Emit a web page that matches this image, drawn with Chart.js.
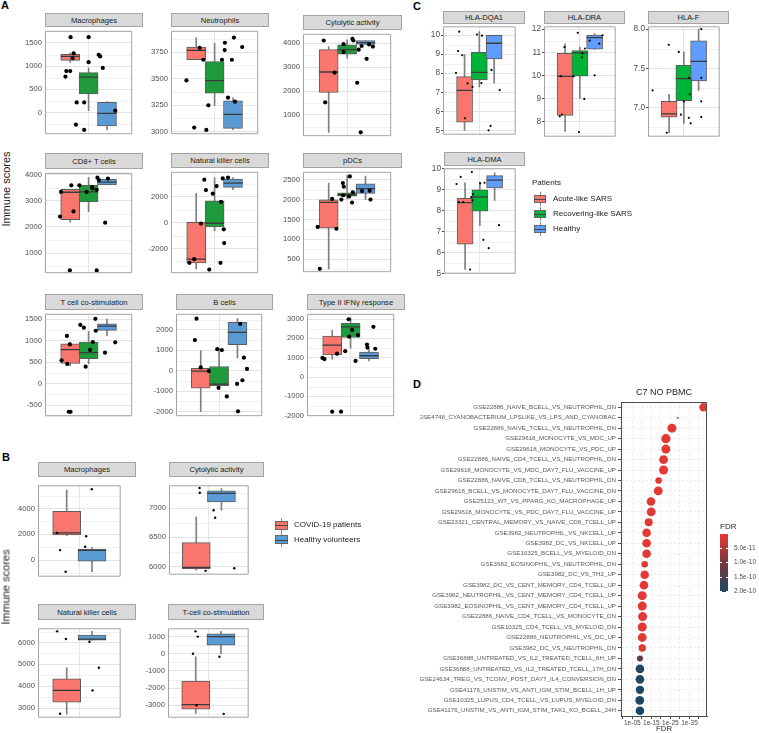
<!DOCTYPE html>
<html>
<head>
<meta charset="utf-8">
<script src="https://cdn.jsdelivr.net/npm/chart.js@4.4.1/dist/chart.umd.min.js"></script>
<style>
body { margin:0; background:#fff; width:759px; height:733px; position:relative; overflow:hidden; font-family:"Liberation Sans", Arial, sans-serif; }
canvas { position:absolute; }
.strip { position:absolute; box-sizing:border-box; background:#d9d9d9; border:1px solid #a3a3a3; color:#1a1a1a; font-size:7.6px; display:flex; align-items:center; justify-content:center; white-space:nowrap; }
.lbl { position:absolute; white-space:nowrap; color:#1a1a1a; }
.tag { position:absolute; font-weight:bold; font-size:11px; line-height:11px; color:#000; }
</style>
</head>
<body>
<div class="tag" style="left:1px;top:0px">A</div>
<div class="tag" style="left:2px;top:452px">B</div>
<div class="tag" style="left:413px;top:1px">C</div>
<div class="tag" style="left:413px;top:379px">D</div>
<canvas id="d" width="339" height="353" style="left:420px;top:380px"></canvas>

<script>
// groups
const groupsA = ['Acute-like SARS', 'Recovering-like SARS', 'Healthy'];
const groupsB = ['COVID-19 patients', 'Healthy volunteers'];

// box summaries: [lower whisker, Q1, median, Q3, upper whisker] per group
// points: [jittered group position, score]
const aMacroBox = [[1080,1125,1211,1257,1290],[40,401,763,862,960],[-375,-290,-20,217,230]];
const aMacroPts = [[1.02,1625],[1.19,1277],[1.13,1171],[0.79,895],[1.0,895],[0.74,776],[1.35,217],[1.31,-263],[1.76,-375],[2.0,1625],[2.0,1086],[1.76,217],[2.55,1244],[2.63,1211],[2.77,961],[3.45,39]];
const aNeutBox = [[3678,3678,3767,3799,3885],[3247,3362,3480,3661,3833],[3017,3029,3161,3290,3319]];
const aNeutPts = [[0.47,3483],[1.19,3790],[1.39,3678],[0.89,3037],[1.55,3014],[1.66,3247],[2.40,3678],[2.56,3839],[2.55,3770],[3.05,3888],[2.94,3678],[3.5,3799],[2.73,3319],[3.11,3282]];
const aCytoBox = [[269,1936,2795,3731,3860],[3372,3538,3731,3936,4141],[3949,3949,4026,4115,4115]];
const aCytoPts = [[0.73,4115],[1.32,2769],[0.81,1526],[1.81,3962],[1.81,3628],[2.29,4180],[2.34,4115],[2.63,3731],[2.79,3885],[3.19,3949],[3.40,3860],[3.06,3346],[2.55,2346],[2.74,269]];
const aCd8Box = [[2186,2279,3326,3442,3442],[2582,2954,3338,3605,3884],[3605,3605,3710,3826,3884]];
const aCd8Pts = [[0.5,3338],[0.45,2396],[1.06,3593],[1.18,2593],[0.98,337],[1.5,3593],[1.89,3338],[2.19,3524],[2.21,3477],[2.44,3419],[2.48,3884],[2.56,3791],[3.05,3849],[2.9,2163],[2.44,337]];
const aNkBox = [[-3577,-3106,-2824,24,2259],[-635,-329,-47,1694,3482],[2541,2729,3059,3365,3482]];
const aNkPts = [[0.63,-3106],[0.89,-2824],[1.26,-71],[1.44,3318],[1.53,2518],[1.71,-3624],[1.9,2235],[2.11,2824],[2.35,1600],[2.44,3412],[2.73,3482],[2.32,-3106],[2.5,-518],[2.52,-1577]];
const aPdcBox = [[255,1281,1932,1994,2415],[2017,2086,2124,2170,2607],[2001,2155,2277,2400,2591]];
const aPdcPts = [[0.4,1312],[1.42,1266],[0.52,255],[1.19,2017],[1.69,2001],[1.77,2415],[1.82,2323],[1.79,2109],[2.11,2078],[2.15,2584],[2.31,2185],[2.27,1925],[2.81,2216],[3.23,2224],[3.27,2001]];
const aTcsBox = [[418,475,794,929,964],[468,581,723,971,1220],[1113,1241,1340,1397,1503]];
const aTcsPts = [[0.53,546],[0.84,461],[0.82,1113],[0.98,915],[0.92,-652],[1.02,-652],[1.55,1368],[1.74,1305],[1.84,397],[2.08,787],[2.23,971],[2.37,1510],[2.39,1234],[2.89,723],[3.45,964]];
const aBcellBox = [[-2000,-851,-15,119,985],[-732,-732,-657,209,1105],[627,1284,1881,2374,2553]];
const aBcellPts = [[0.77,2553],[0.68,1508],[1.0,164],[1.44,-15],[1.9,1060],[2.15,1015],[1.97,-836],[2.42,-1254],[3.15,2299],[3.35,642],[3.52,90],[3.27,-463],[2.98,-642],[3.03,-1986]];
const aIfnBox = [[927,1148,1651,2122,2405],[1493,2044,2594,2782,3065],[833,943,1100,1289,1415]];
const aIfnPts = [[0.47,990],[0.58,927],[1.26,1210],[1.0,-1792],[1.48,-1792],[1.71,1336],[1.89,2987],[2.08,2437],[1.92,2091],[2.4,2169],[2.27,833],[2.89,1682],[2.92,1525],[3.34,1462],[3.24,2594]];

const cDqa1Box = [[5.0,5.43,7.10,7.82,8.96],[7.28,7.64,8.04,9.09,10.18],[7.48,8.75,9.57,9.98,9.98]];
const cDqa1Pts = [[0.64,10.18],[0.56,9.16],[0.84,8.94],[0.42,8.02],[1.2,7.46],[1.02,5.63],[1.54,7.28],[1.84,10.03],[2.18,9.97],[2.14,7.48],[2.82,8.17],[3.38,7.11],[2.62,5.0],[2.76,5.23]];
const cDraBox = [[7.58,8.27,9.96,10.95,11.36],[9.0,9.96,10.97,11.07,11.22],[11.13,11.13,11.63,11.74,11.81]];
const cDraPts = [[0.96,11.22],[0.7,9.97],[0.64,8.23],[0.78,8.31],[1.86,11.84],[1.58,9.96],[2.16,10.95],[2.14,10.78],[2.34,11.16],[2.3,8.98],[1.94,7.55],[2.66,11.5],[3.32,11.37],[3.54,11.73],[3.0,10.0]];
const cFBox = [[6.68,6.88,6.92,7.08,7.17],[6.8,7.09,7.37,7.54,7.71],[7.22,7.34,7.59,7.85,8.0]];
const cFPts = [[-0.12,7.22],[0.98,7.80],[0.84,6.68],[1.66,7.71],[1.8,6.91],[2.0,7.08],[2.34,7.38],[2.4,7.17],[2.34,6.87],[2.46,6.8],[3.18,7.38],[3.18,8.0],[3.18,7.08],[3.18,6.88]];
const cDmaBox = [[5.18,6.39,8.38,8.58,9.33],[7.28,7.97,8.65,8.99,9.36],[8.49,9.08,9.45,9.67,9.8]];
const cDmaPts = [[0.42,9.27],[0.7,9.61],[0.58,8.40],[0.88,8.40],[1.34,5.18],[1.46,9.84],[1.42,8.64],[1.54,8.78],[1.5,8.49],[2.02,9.30],[2.32,9.33],[2.24,6.6],[2.6,6.2],[3.3,7.3]];

const bMacroBox = [[1890,1956,2107,3784,5440],[-903,-86,753,860,989]];
const bMacroPts = [[0.62,2107],[0.74,774],[0.96,-903],[1.99,5505],[1.77,1849],[1.73,1032]];
const bCytoBox = [[5939,5962,5986,6410,6845],[6962,7104,7249,7292,7330]];
const bCytoPts = [[1.13,7340],[1.14,7259],[1.69,6962],[1.75,6835],[2.51,5972],[1.37,5929]];
const bNkBox = [[2720,3265,3807,4338,4842],[6108,6108,6157,6335,6510]];
const bNkPts = [[0.62,6510],[0.97,6157],[0.74,2735],[1.9,6032],[2.27,4842],[2.02,3807]];
const bTcsBox = [[-3463,-3222,-2960,-1587,-175],[-16,500,996,1155,1299]];
const bTcsPts = [[0.99,1299],[1.08,996],[0.89,0],[1.03,-2996],[1.94,-175],[2.11,-3493]];

// panel D: gene sets, -log10 FDR, overlap size, FDR (colour)
const gsTerms = [
  'GSE22886_NAIVE_BCELL_VS_NEUTROPHIL_DN',
  'GSE4748_CYANOBACTERIUM_LPSLIKE_VS_LPS_AND_CYANOBAC',
  'GSE22886_NAIVE_TCELL_VS_NEUTROPHIL_DN',
  'GSE29618_MONOCYTE_VS_MDC_UP',
  'GSE29618_MONOCYTE_VS_PDC_UP',
  'GSE22886_NAIVE_CD4_TCELL_VS_NEUTROPHIL_DN',
  'GSE29618_MONOCYTE_VS_MDC_DAY7_FLU_VACCINE_UP',
  'GSE22886_NAIVE_CD8_TCELL_VS_NEUTROPHIL_DN',
  'GSE29618_BCELL_VS_MONOCYTE_DAY7_FLU_VACCINE_DN',
  'GSE25123_WT_VS_PPARG_KO_MACROPHAGE_UP',
  'GSE29618_MONOCYTE_VS_PDC_DAY7_FLU_VACCINE_UP',
  'GSE23321_CENTRAL_MEMORY_VS_NAIVE_CD8_TCELL_UP',
  'GSE3982_NEUTROPHIL_VS_NKCELL_UP',
  'GSE3982_DC_VS_NKCELL_UP',
  'GSE10325_BCELL_VS_MYELOID_DN',
  'GSE3982_EOSINOPHIL_VS_NEUTROPHIL_DN',
  'GSE3982_DC_VS_TH2_UP',
  'GSE3982_DC_VS_CENT_MEMORY_CD4_TCELL_UP',
  'GSE3982_NEUTROPHIL_VS_CENT_MEMORY_CD4_TCELL_UP',
  'GSE3982_EOSINOPHIL_VS_CENT_MEMORY_CD4_TCELL_UP',
  'GSE22886_NAIVE_CD4_TCELL_VS_MONOCYTE_DN',
  'GSE10325_CD4_TCELL_VS_MYELOID_DN',
  'GSE22886_NEUTROPHIL_VS_DC_UP',
  'GSE3982_DC_VS_NEUTROPHIL_DN',
  'GSE36888_UNTREATED_VS_IL2_TREATED_TCELL_6H_UP',
  'GSE36888_UNTREATED_VS_IL2_TREATED_TCELL_17H_DN',
  'GSE24634_TREG_VS_TCONV_POST_DAY7_IL4_CONVERSION_DN',
  'GSE41176_UNSTIM_VS_ANTI_IGM_STIM_BCELL_1H_UP',
  'GSE10325_LUPUS_CD4_TCELL_VS_LUPUS_MYELOID_DN',
  'GSE41176_UNSTIM_VS_ANTI_IGM_STIM_TAK1_KO_BCELL_24H'
];
const gsScore = [42.4,28.8,25.8,22.6,22.6,21.4,21.4,18.8,18.6,14.8,14.9,13.6,12.5,12.5,12.5,11.5,11.5,11.1,10.2,10.2,10.4,10.2,10.2,10.2,9.0,9.0,9.0,9.0,8.9,9.0];
const gsCount = [43,10,45,46,45,44,45,33,44,43,44,40,43,43,43,33,43,43,45,45,45,45,44,37,30,43,43,42,44,43];
const gsFdr = [2e-12,2e-12,2e-12,2e-12,2e-12,2e-12,2e-12,2e-12,2e-12,2e-12,2e-12,2e-12,2e-12,2e-12,2e-12,2e-12,2e-12,2e-12,2e-12,2e-12,2e-12,2e-12,2e-12,5e-12,1.3e-10,1.93e-10,1.95e-10,1.95e-10,2e-10,2e-10];
const fdrTicks = ['5.0e-11', '1.0e-10', '1.5e-10', '2.0e-10'];

const colA = ['#F8766D', '#1E9A3C', '#5B9BD5'];
const colC = ['#F8766D', '#00B43A', '#619CFF'];
const colB = ['#F8766D', '#5B9BD5'];

Chart.defaults.font.family = '"Liberation Sans", Arial, sans-serif';
Chart.defaults.color = '#4d4d4d';

const frame = {
  id: 'frame',
  afterDatasetsDraw(chart, args, opts) {
    const a = chart.chartArea, ctx = chart.ctx;
    ctx.save();
    ctx.strokeStyle = opts.color || '#a3a3a3';
    ctx.lineWidth = 1;
    ctx.beginPath();
    if (opts.sides === 'tr') {
      ctx.moveTo(a.left, a.top + 0.5);
      ctx.lineTo(a.right - 0.5, a.top + 0.5);
      ctx.lineTo(a.right - 0.5, a.bottom);
    } else {
      ctx.rect(a.left + 0.5, a.top + 0.5, a.right - a.left - 1, a.bottom - a.top - 1);
    }
    ctx.stroke();
    ctx.restore();
  }
};

// lighter half-step grid lines between the labelled ones
const minorGrid = {
  id: 'minorGrid',
  beforeDatasetsDraw(chart, args, opts) {
    if (!opts.step) return;
    const y = chart.scales.y, a = chart.chartArea, ctx = chart.ctx;
    ctx.save();
    ctx.strokeStyle = '#f1f1f1';
    ctx.lineWidth = 1;
    for (let k = Math.ceil(y.min / opts.step); k * opts.step <= y.max; k++) {
      if (k % 2 === 0) continue;
      const py = Math.round(y.getPixelForValue(k * opts.step)) + 0.5;
      ctx.beginPath();
      ctx.moveTo(a.left, py);
      ctx.lineTo(a.right, py);
      ctx.stroke();
    }
    ctx.restore();
  }
};

// ticks at every multiple of `step` inside the axis range
function stepTicks(step) {
  return s => {
    const t = [];
    for (let k = Math.ceil(s.min / step - 1e-9); k * step <= s.max + 1e-9; k++) {
      t.push({ value: +(k * step).toFixed(6) });
    }
    s.ticks = t;
  };
}

const LAB = 30;

function facet(p) {
  const M = 6;
  const W = p.right - p.left, H = p.bottom - p.top;
  const cv = document.createElement('canvas');
  cv.width = W + LAB; cv.height = H + 2 * M;
  cv.style.left = (p.left - LAB) + 'px';
  cv.style.top = (p.top - M) + 'px';
  const strip = document.createElement('div');
  strip.className = 'strip';
  strip.style.left = p.left + 'px';
  strip.style.top = p.stripTop + 'px';
  strip.style.width = W + 'px';
  strip.style.height = (p.top - p.stripTop + 1) + 'px';
  strip.textContent = p.title;
  document.body.appendChild(cv);
  document.body.appendChild(strip);

  const n = p.box.length, mid = (n + 1) / 2, half = W / 2 / p.unit;
  const bw = Math.round(p.unit * p.fill);

  return new Chart(cv, {
    type: 'bar',
    data: {
      datasets: [
        { data: p.box.map((b, i) => ({ x: i + 1, y: [b[0], b[4]] })), backgroundColor: '#7f7f7f', barThickness: 1, grouped: false, order: 3 },
        { data: p.box.map((b, i) => ({ x: i + 1, y: [b[1], b[3]] })), backgroundColor: p.colors, borderColor: '#5c5c5c', borderWidth: 1, borderSkipped: false, barThickness: bw, grouped: false, order: 2 },
        { type: 'scatter', data: p.box.map((b, i) => ({ x: i + 1, y: b[2] })), pointStyle: 'line', pointRadius: bw / 2, pointBorderColor: '#3a3a3a', pointBorderWidth: 1.3, order: 1 },
        { type: 'scatter', data: p.pts.map(d => ({ x: d[0], y: d[1] })), pointRadius: p.dot, pointBackgroundColor: '#000', pointBorderWidth: 0, order: 0 }
      ]
    },
    options: {
      responsive: false, animation: false, events: [],
      layout: { padding: { top: M, bottom: M, left: 0, right: 0 } },
      plugins: { legend: { display: false }, tooltip: { enabled: false }, frame: {}, minorGrid: { step: p.major / 2 } },
      scales: {
        x: {
          type: 'linear', min: mid - half, max: mid + half, offset: false,
          afterBuildTicks: s => { s.ticks = [{ value: mid }]; },
          afterFit: s => { s.height = 0; },
          ticks: { display: false },
          grid: { color: '#e6e6e6', drawTicks: false, offset: false },
          border: { display: false }
        },
        y: {
          type: 'linear', min: p.yMin, max: p.yMax, beginAtZero: false,
          afterBuildTicks: stepTicks(p.major),
          afterFit: s => { s.width = LAB; },
          ticks: {
            autoSkip: false,
            padding: p.tick ? 1 : 3, color: '#4d4d4d', font: { size: p.font },
            callback: v => v.toFixed(p.dp || 0)
          },
          grid: { color: '#e3e3e3', drawTicks: !!p.tick, tickLength: 2, tickColor: '#4d4d4d' },
          border: { display: false }
        }
      }
    },
    plugins: [minorGrid, frame]
  });
}

const A = { unit: 20.67, fill: 0.92, dot: 2.1, font: 7.6, colors: colA };
const C = { unit: 16.67, fill: 0.94, dot: 1.1, font: 8.3, colors: colC, tick: true };
const B = { unit: 30, fill: 0.93, dot: 1.2, font: 7.6, colors: colB };

facet({ ...A, title: 'Macrophages', box: aMacroBox, pts: aMacroPts, left: 45, right: 143, stripTop: 13, top: 26, bottom: 139, yMin: -468, yMax: 1763, major: 500 });
facet({ ...A, title: 'Neutrophils', box: aNeutBox, pts: aNeutPts, left: 171, right: 269, stripTop: 13, top: 26, bottom: 139, yMin: 2974, yMax: 3952, major: 250 });
facet({ ...A, title: 'Cytolytic activity', box: aCytoBox, pts: aCytoPts, left: 303, right: 402, stripTop: 15, top: 29, bottom: 141, yMin: 108, yMax: 4395, major: 1000 });
facet({ ...A, title: 'CD8+ T cells', box: aCd8Box, pts: aCd8Pts, left: 45, right: 143, stripTop: 153, top: 168, bottom: 278, yMin: 232, yMax: 4070, major: 1000 });
facet({ ...A, title: 'Natural killer cells', box: aNkBox, pts: aNkPts, left: 171, right: 269, stripTop: 153, top: 167, bottom: 278, yMin: -3906, yMax: 3927, major: 2000 });
facet({ ...A, title: 'pDCs', box: aPdcBox, pts: aPdcPts, left: 303, right: 402, stripTop: 153, top: 167, bottom: 277, yMin: 171, yMax: 2700, major: 500 });
facet({ ...A, title: 'T cell co-stimulation', box: aTcsBox, pts: aTcsPts, left: 45, right: 143, stripTop: 294, top: 309, bottom: 421, yMin: -755, yMax: 1628, major: 500 });
facet({ ...A, title: 'B cells', box: aBcellBox, pts: aBcellPts, left: 176, right: 273, stripTop: 294, top: 309, bottom: 421, yMin: -2224, yMax: 2793, major: 1000 });
facet({ ...A, title: 'Type II IFNγ response', box: aIfnBox, pts: aIfnPts, left: 307, right: 405, stripTop: 294, top: 309, bottom: 421, yMin: -2025, yMax: 3269, major: 1000 });

facet({ ...C, title: 'HLA-DQA1', box: cDqa1Box, pts: cDqa1Pts, left: 443, right: 525, stripTop: 11, top: 23, bottom: 138, yMin: 4.77, yMax: 10.46, major: 1 });
facet({ ...C, title: 'HLA-DRA', box: cDraBox, pts: cDraPts, left: 544, right: 625, stripTop: 11, top: 23, bottom: 140, yMin: 7.35, yMax: 12.12, major: 1 });
facet({ ...C, title: 'HLA-F', box: cFBox, pts: cFPts, left: 648, right: 729, stripTop: 11, top: 23, bottom: 140, yMin: 6.63, yMax: 8.036, major: 0.5, dp: 1 });
facet({ ...C, title: 'HLA-DMA', box: cDmaBox, pts: cDmaPts, left: 444, right: 525, stripTop: 152, top: 165, bottom: 277, yMin: 4.98, yMax: 10.02, major: 1 });

facet({ ...B, title: 'Macrophages', box: bMacroBox, pts: bMacroPts, left: 38, right: 136, stripTop: 462, top: 476, bottom: 586, yMin: -1290, yMax: 5805, major: 2000 });
facet({ ...B, title: 'Cytolytic activity', box: bCytoBox, pts: bCytoPts, left: 169, right: 264, stripTop: 462, top: 476, bottom: 584, yMin: 5863, yMax: 7387, major: 500 });
facet({ ...B, title: 'Natural killer cells', box: bNkBox, pts: bNkPts, left: 38, right: 136, stripTop: 604, top: 619, bottom: 727, yMin: 2557, yMax: 6650, major: 1000 });
facet({ ...B, title: 'T-cell co-stimulation', box: bTcsBox, pts: bTcsPts, left: 168, right: 264, stripTop: 604, top: 619, bottom: 727, yMin: -3718, yMax: 1477, major: 1000 });

// text helpers
function label(s, x, y, size, extra) {
  const d = document.createElement('div');
  d.className = 'lbl';
  d.textContent = s;
  d.style.cssText = `left:${x}px;top:${y - size * 0.6}px;font-size:${size}px;line-height:${size * 1.2}px;` + (extra || '');
  document.body.appendChild(d);
  return d;
}
function vlabel(s, cx, cy, size) {
  const d = document.createElement('div');
  d.className = 'lbl';
  d.textContent = s;
  d.style.cssText = `left:${cx}px;top:${cy}px;font-size:${size}px;line-height:${size}px;transform:translate(-50%,-50%) rotate(-90deg);`;
  document.body.appendChild(d);
}
function key(x, y, color, w, h) {
  const wk = document.createElement('div');
  wk.style.cssText = `position:absolute;left:${x + Math.floor(w / 2)}px;top:${y - h / 2 - 3}px;width:1px;height:${h + 6}px;background:#8a8a8a`;
  const bx = document.createElement('div');
  bx.style.cssText = `position:absolute;left:${x}px;top:${y - h / 2}px;width:${w}px;height:${h}px;box-sizing:border-box;border:1px solid #666;background:${color}`;
  const md = document.createElement('div');
  md.style.cssText = `position:absolute;left:${x}px;top:${Math.round(y)}px;width:${w}px;height:1px;background:#444`;
  document.body.append(wk, bx, md);
}

vlabel('Immune scores', 6, 189, 11);
vlabel('Immune scores', 6, 587, 11);

// legend C
label('Patients', 532, 183, 8);
groupsA.forEach((g, i) => {
  key(534, 199 + i * 15, colC[i], 12, 8);
  label(g, 553, 199 + i * 15, 8);
});
// legend B
groupsB.forEach((g, i) => {
  key(275, 525 + i * 14.5, colB[i], 13, 9);
  label(g, 294, 525 + i * 14.5, 8);
});

// panel D
function fdrColor(f) {
  const t = Math.min(1, Math.max(0, f / 2e-10));
  const s = [[229, 57, 53], [120, 55, 62], [28, 72, 102]];
  const k = t < 0.5 ? 0 : 1, u = t < 0.5 ? t / 0.5 : (t - 0.5) / 0.5;
  const c = s[k].map((v, j) => Math.round(v + (s[k + 1][j] - v) * u));
  return `rgb(${c[0]},${c[1]},${c[2]})`;
}

label('C7 NO PBMC', 664, 392, 9, 'transform:translateX(-50%);color:#262626');
label('FDR', 664, 729, 7.8, 'transform:translateX(-50%);color:#262626');

new Chart(document.getElementById('d'), {
  type: 'bubble',
  data: {
    datasets: [{
      data: gsTerms.map((t, i) => ({ x: gsScore[i], y: t, r: gsCount[i] / 10 })),
      backgroundColor: gsFdr.map(fdrColor),
      borderWidth: 0
    }]
  },
  options: {
    responsive: false, animation: false, events: [],
    layout: { padding: { top: 22, right: 52, bottom: 0, left: 0 } },
    plugins: { legend: { display: false }, tooltip: { enabled: false }, frame: { sides: 'tr', color: '#4d4d4d' } },
    scales: {
      x: {
        type: 'linear', min: -0.94, max: 44.2,
        afterBuildTicks: stepTicks(5),
        afterFit: s => { s.height = 17; },
        ticks: {
          autoSkip: false, maxRotation: 0, padding: 0,
          font: { size: 6.5 }, color: '#4d4d4d',
          callback: v => v % 10 === 5 ? '1e-' + String(v).padStart(2, '0') : ''
        },
        grid: { color: '#ebebeb', tickLength: 3, tickColor: '#4d4d4d' },
        border: { color: '#4d4d4d', dash: [2, 2] }
      },
      y: {
        type: 'category', labels: gsTerms, offset: true,
        afterFit: s => { s.width = 201; },
        ticks: { autoSkip: false, padding: 2, font: { size: 6.2 }, color: '#595959' },
        grid: { color: '#ebebeb', tickLength: 3, tickColor: '#4d4d4d', offset: false },
        border: { color: '#4d4d4d', dash: [2, 2] }
      }
    }
  },
  plugins: [frame]
});

// FDR colour bar
label('FDR', 720, 527, 8, 'color:#262626');
const bar = document.createElement('div');
bar.style.cssText = 'position:absolute;left:720px;top:534px;width:8px;height:58px;background:linear-gradient(to bottom,' +
  [0, 0.5, 1].map(t => fdrColor(t * 2e-10)).join(',') + ')';
document.body.appendChild(bar);
fdrTicks.forEach((t, i) => {
  const y = 548 + i * 14.3;
  const l = document.createElement('div');
  l.style.cssText = `position:absolute;left:720px;top:${Math.round(y)}px;width:2px;height:1px;background:#fff`;
  const r = document.createElement('div');
  r.style.cssText = `position:absolute;left:726px;top:${Math.round(y)}px;width:2px;height:1px;background:#fff`;
  document.body.append(l, r);
  label(t, 734, y, 6.5, 'color:#4d4d4d');
});
</script>
</body>
</html>
